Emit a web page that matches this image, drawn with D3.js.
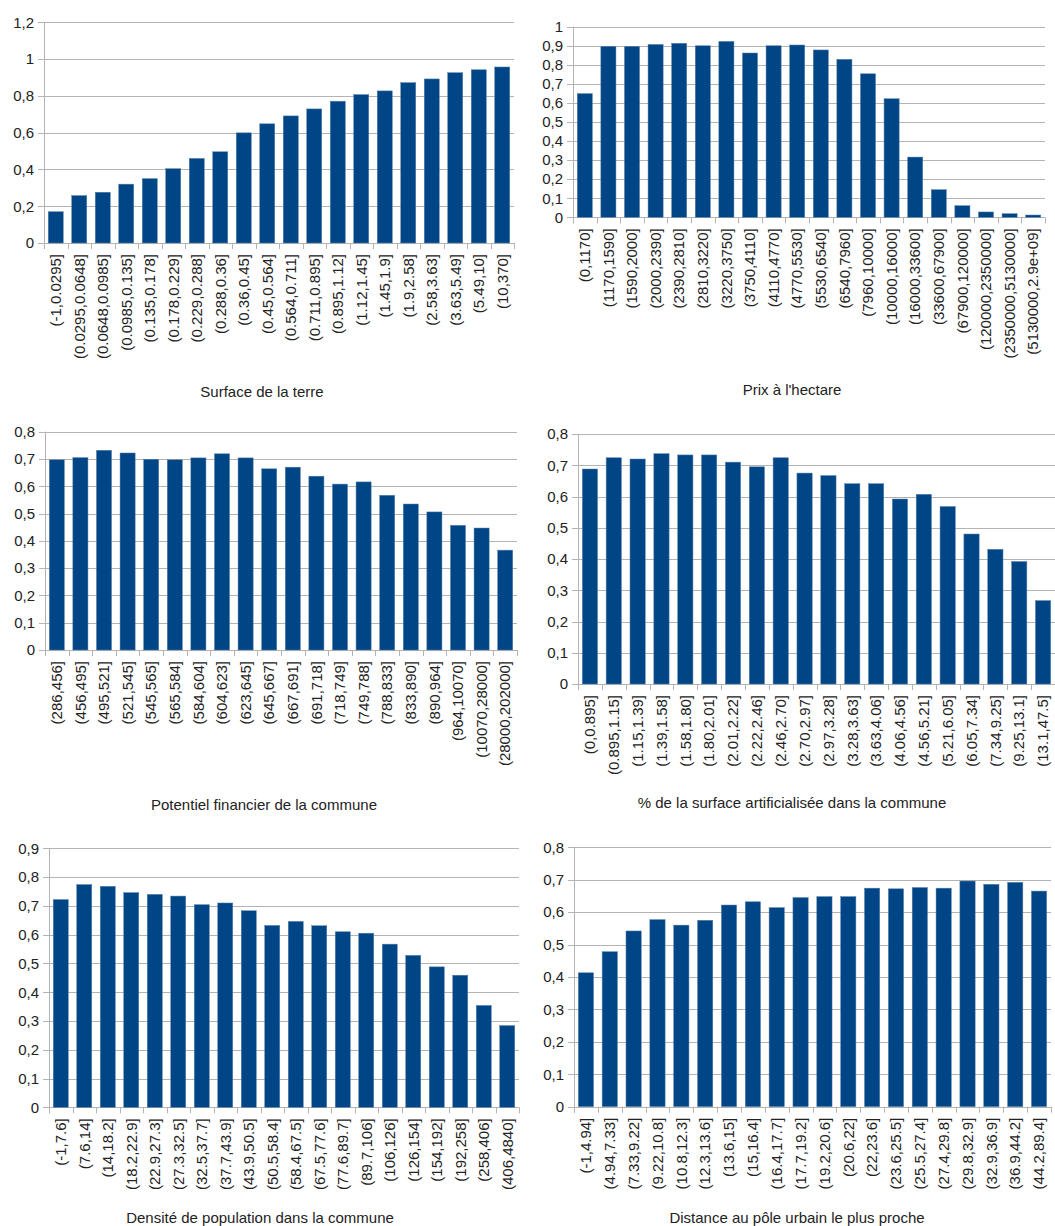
<!DOCTYPE html>
<html>
<head>
<meta charset="utf-8">
<script src="https://cdn.jsdelivr.net/npm/d3@7/dist/d3.min.js"></script>
<style>
  html, body { margin: 0; padding: 0; background: #fff; }
  svg { display: block; }
  text { font-family: "Liberation Sans", Arial, sans-serif; fill: #222; }
</style>
</head>
<body>
<svg id="chart" width="1055" height="1226"></svg>
<script>
// ---- Data: share per class interval for each variable ----
const surfaceLabels = ["(-1,0.0295]","(0.0295,0.0648]","(0.0648,0.0985]","(0.0985,0.135]","(0.135,0.178]","(0.178,0.229]","(0.229,0.288]","(0.288,0.36]","(0.36,0.45]","(0.45,0.564]","(0.564,0.711]","(0.711,0.895]","(0.895,1.12]","(1.12,1.45]","(1.45,1.9]","(1.9,2.58]","(2.58,3.63]","(3.63,5.49]","(5.49,10]","(10,370]"];
const surfaceValues = [0.17,0.258,0.276,0.32,0.35,0.404,0.46,0.496,0.599,0.648,0.691,0.729,0.771,0.807,0.827,0.872,0.892,0.926,0.942,0.957];
const surfaceTicks = [0,0.2,0.4,0.6,0.8,1,1.2];

const prixLabels = ["(0,1170]","(1170,1590]","(1590,2000]","(2000,2390]","(2390,2810]","(2810,3220]","(3220,3750]","(3750,4110]","(4110,4770]","(4770,5530]","(5530,6540]","(6540,7960]","(7960,10000]","(10000,16000]","(16000,33600]","(33600,67900]","(67900,120000]","(120000,2350000]","(2350000,5130000]","(5130000,2.9e+09]"];
const prixValues = [0.649,0.897,0.897,0.907,0.913,0.9,0.923,0.862,0.9,0.904,0.878,0.829,0.753,0.622,0.316,0.145,0.061,0.028,0.019,0.012];
const prixTicks = [0,0.1,0.2,0.3,0.4,0.5,0.6,0.7,0.8,0.9,1];

const potentielLabels = ["(286,456]","(456,495]","(495,521]","(521,545]","(545,565]","(565,584]","(584,604]","(604,623]","(623,645]","(645,667]","(667,691]","(691,718]","(718,749]","(749,788]","(788,833]","(833,890]","(890,964]","(964,10070]","(10070,28000]","(28000,202000]"];
const potentielValues = [0.697,0.705,0.732,0.722,0.699,0.697,0.704,0.719,0.704,0.664,0.67,0.637,0.608,0.616,0.567,0.535,0.506,0.457,0.447,0.366];
const potentielTicks = [0,0.1,0.2,0.3,0.4,0.5,0.6,0.7,0.8];

const artifLabels = ["(0,0.895]","(0.895,1.15]","(1.15,1.39]","(1.39,1.58]","(1.58,1.80]","(1.80,2.01]","(2.01,2.22]","(2.22,2.46]","(2.46,2.70]","(2.70,2.97]","(2.97,3.28]","(3.28,3.63]","(3.63,4.06]","(4.06,4.56]","(4.56,5.21]","(5.21,6.05]","(6.05,7.34]","(7.34,9.25]","(9.25,13.1]","(13.1,47.5]"];
const artifValues = [0.688,0.724,0.72,0.737,0.733,0.733,0.71,0.695,0.724,0.675,0.667,0.641,0.641,0.592,0.607,0.568,0.48,0.431,0.392,0.267];
const artifTicks = [0,0.1,0.2,0.3,0.4,0.5,0.6,0.7,0.8];

const densiteLabels = ["(-1,7.6]","(7.6,14]","(14,18.2]","(18.2,22.9]","(22.9,27.3]","(27.3,32.5]","(32.5,37.7]","(37.7,43.9]","(43.9,50.5]","(50.5,58.4]","(58.4,67.5]","(67.5,77.6]","(77.6,89.7]","(89.7,106]","(106,126]","(126,154]","(154,192]","(192,258]","(258,406]","(406,4840]"];
const densiteValues = [0.722,0.774,0.768,0.746,0.74,0.734,0.704,0.71,0.683,0.632,0.646,0.631,0.61,0.605,0.567,0.528,0.488,0.459,0.354,0.284];
const densiteTicks = [0,0.1,0.2,0.3,0.4,0.5,0.6,0.7,0.8,0.9];

const distanceLabels = ["(-1,4.94]","(4.94,7.33]","(7.33,9.22]","(9.22,10.8]","(10.8,12.3]","(12.3,13.6]","(13.6,15]","(15,16.4]","(16.4,17.7]","(17.7,19.2]","(19.2,20.6]","(20.6,22]","(22,23.6]","(23.6,25.5]","(25.5,27.4]","(27.4,29.8]","(29.8,32.9]","(32.9,36.9]","(36.9,44.2]","(44.2,89.4]"];
const distanceValues = [0.413,0.478,0.542,0.577,0.56,0.575,0.622,0.632,0.614,0.645,0.648,0.648,0.674,0.672,0.676,0.674,0.696,0.686,0.692,0.665];
const distanceTicks = [0,0.1,0.2,0.3,0.4,0.5,0.6,0.7,0.8];

const titles = [
  "Surface de la terre",
  "Prix à l'hectare",
  "Potentiel financier de la commune",
  "% de la surface artificialisée dans la commune",
  "Densité de population dans la commune",
  "Distance au pôle urbain le plus proche"
];

// ---- Layout of the six panels ----
const panels = [
  { labels: surfaceLabels,   values: surfaceValues,   ticks: surfaceTicks,   title: titles[0], x0: 44,  x1: 514,  y0: 22.3,  y1: 243,    titleX: 262, titleY: 397 },
  { labels: prixLabels,      values: prixValues,      ticks: prixTicks,      title: titles[1], x0: 573, x1: 1045, y0: 26.7,  y1: 217.3,  titleX: 792, titleY: 395 },
  { labels: potentielLabels, values: potentielValues, ticks: potentielTicks, title: titles[2], x0: 45,  x1: 517,  y0: 431.7, y1: 650,    titleX: 264, titleY: 810 },
  { labels: artifLabels,     values: artifValues,     ticks: artifTicks,     title: titles[3], x0: 578, x1: 1055, y0: 434,   y1: 684,    titleX: 792, titleY: 808 },
  { labels: densiteLabels,   values: densiteValues,   ticks: densiteTicks,   title: titles[4], x0: 49,  x1: 519,  y0: 848.3, y1: 1107.3, titleX: 260, titleY: 1223 },
  { labels: distanceLabels,  values: distanceValues,  ticks: distanceTicks,  title: titles[5], x0: 574, x1: 1051, y0: 847.3, y1: 1106.7, titleX: 797, titleY: 1223 }
];

const fr = d3.formatLocale({ decimal: ",", thousands: " ", grouping: [3], currency: ["", " €"] });
const fmt = fr.format(".1~f");

const BAR = "#004586";
const GRID = "#b3b3b3";

const svg = d3.select("#chart");

panels.forEach(p => {
  const g = svg.append("g");
  const yMax = p.ticks[p.ticks.length - 1];

  const x = d3.scaleBand().domain(p.labels).range([p.x0, p.x1]).paddingInner(0.36).paddingOuter(0.18);
  const y = d3.scaleLinear().domain([0, yMax]).range([p.y1, p.y0]);

  // horizontal grid lines, with short ticks left of the axis
  g.append("g").selectAll("line").data(p.ticks).join("line")
    .attr("x1", p.x0 - 6).attr("x2", p.x1)
    .attr("y1", d => Math.round(y(d)) + 0.5).attr("y2", d => Math.round(y(d)) + 0.5)
    .attr("stroke", GRID).attr("stroke-width", 1);

  // y tick labels
  const yAxis = d3.axisLeft(y).tickValues(p.ticks).tickFormat(fmt).tickSize(0).tickPadding(10);
  const ya = g.append("g").attr("transform", `translate(${p.x0},0)`).call(yAxis);
  ya.select(".domain").remove();
  ya.selectAll("text").attr("font-size", 15).attr("fill", "#222")
    .attr("font-family", '"Liberation Sans", Arial, sans-serif');

  // bars
  g.append("g").selectAll("rect").data(p.values).join("rect")
    .attr("x", (d, i) => x(p.labels[i]))
    .attr("width", x.bandwidth())
    .attr("y", d => y(d))
    .attr("height", d => y(0) - y(d))
    .attr("fill", BAR)
    .attr("stroke", "#5a84ad").attr("stroke-width", 0.5);

  // vertical axis line
  g.append("line")
    .attr("x1", Math.round(p.x0) + 0.5).attr("x2", Math.round(p.x0) + 0.5)
    .attr("y1", p.y0).attr("y2", p.y1 + 6)
    .attr("stroke", GRID);

  // category boundary ticks under the baseline
  const step = (p.x1 - p.x0) / p.labels.length;
  const bounds = d3.range(p.labels.length + 1).map(i => p.x0 + i * step);
  g.append("g").selectAll("line").data(bounds).join("line")
    .attr("x1", d => Math.round(d) + 0.5).attr("x2", d => Math.round(d) + 0.5)
    .attr("y1", p.y1).attr("y2", p.y1 + 6)
    .attr("stroke", GRID);

  // rotated category labels
  g.append("g").selectAll("text").data(p.labels).join("text")
    .attr("transform", d => `translate(${x(d) + x.bandwidth() / 2},${p.y1 + 11}) rotate(-90)`)
    .attr("text-anchor", "end")
    .attr("dy", "0.35em")
    .attr("font-size", 15)
    .text(d => d);

  // axis title
  g.append("text")
    .attr("x", p.titleX).attr("y", p.titleY)
    .attr("text-anchor", "middle")
    .attr("font-size", 15)
    .text(p.title);
});
</script>
</body>
</html>
